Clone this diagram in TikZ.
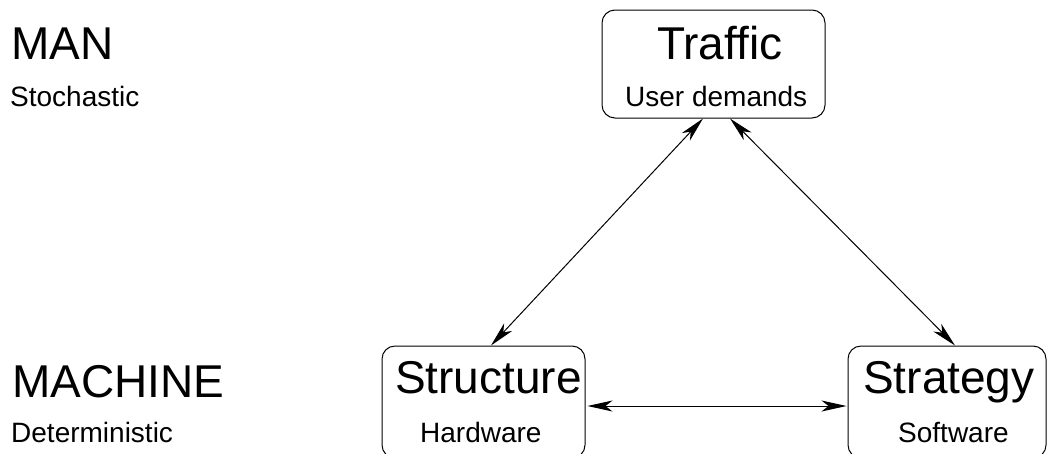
\documentclass[tikz,border=0pt]{standalone}
\usepackage{fontspec}
\setmainfont{Liberation Sans}
\usetikzlibrary{arrows.meta}
\tikzset{
  bigtext/.style={font=\fontsize{46}{50}\selectfont, inner sep=0pt, anchor=base west},
  smalltext/.style={font=\fontsize{28}{32}\selectfont, inner sep=0pt, anchor=base west},
  roundbox/.style={draw, line width=1pt, rounded corners=13pt, inner sep=0pt},
  link/.style={line width=1pt, {Stealth[length=25pt,width=11pt,inset=7pt]}-{Stealth[length=25pt,width=11pt,inset=7pt]}}
}
\begin{document}
\begin{tikzpicture}[x=1pt,y=-1pt]
  \useasboundingbox (0,0) rectangle (1048,453);
  \clip (0,0) rectangle (1048,453);

  % level labels
  \node[bigtext]   (man)      at (11,59)  {MAN};
  \node[smalltext] (stoch)    at (10,106) {Stochastic};
  \node[bigtext]   (machine)  at (12,397) {MACHINE};
  \node[smalltext] (determ)   at (11,442) {Deterministic};

  % boxes
  \node[roundbox, minimum width=223pt, minimum height=108pt] (traffic)   at (713.5,64) {};
  \node[roundbox, minimum width=203pt, minimum height=112pt] (structure) at (483.5,402) {};
  \node[roundbox, minimum width=198pt, minimum height=112pt] (strategy)  at (947,402) {};

  % box texts
  \node[bigtext]   (trafficT)   at (657,59)  {Traffic};
  \node[smalltext] (trafficS)   at (625,106) {User demands};
  \node[bigtext]   (structureT) at (395,393) {Structure};
  \node[smalltext] (structureS) at (420,442) {Hardware};
  \node[bigtext]   (strategyT)  at (863,393) {Strategy};
  \node[smalltext] (strategyS)  at (898,442) {Software};

  % connector end points on the box edges
  \coordinate (tl) at ([xshift=-10.5pt]traffic.south);
  \coordinate (tr) at ([xshift=16.5pt]traffic.south);
  \coordinate (sn) at ([xshift=7.5pt]structure.north);
  \coordinate (gn) at ([xshift=8pt]strategy.north);
  \coordinate (se) at ([yshift=-4pt,xshift=2pt]structure.east);
  \coordinate (gw) at ([yshift=-4pt,xshift=-1pt]strategy.west);

  % connectors
  \draw[link] (tl) -- (sn);
  \draw[link] (tr) -- (gn);
  \draw[link] (se) -- (gw);
\end{tikzpicture}
\end{document}
